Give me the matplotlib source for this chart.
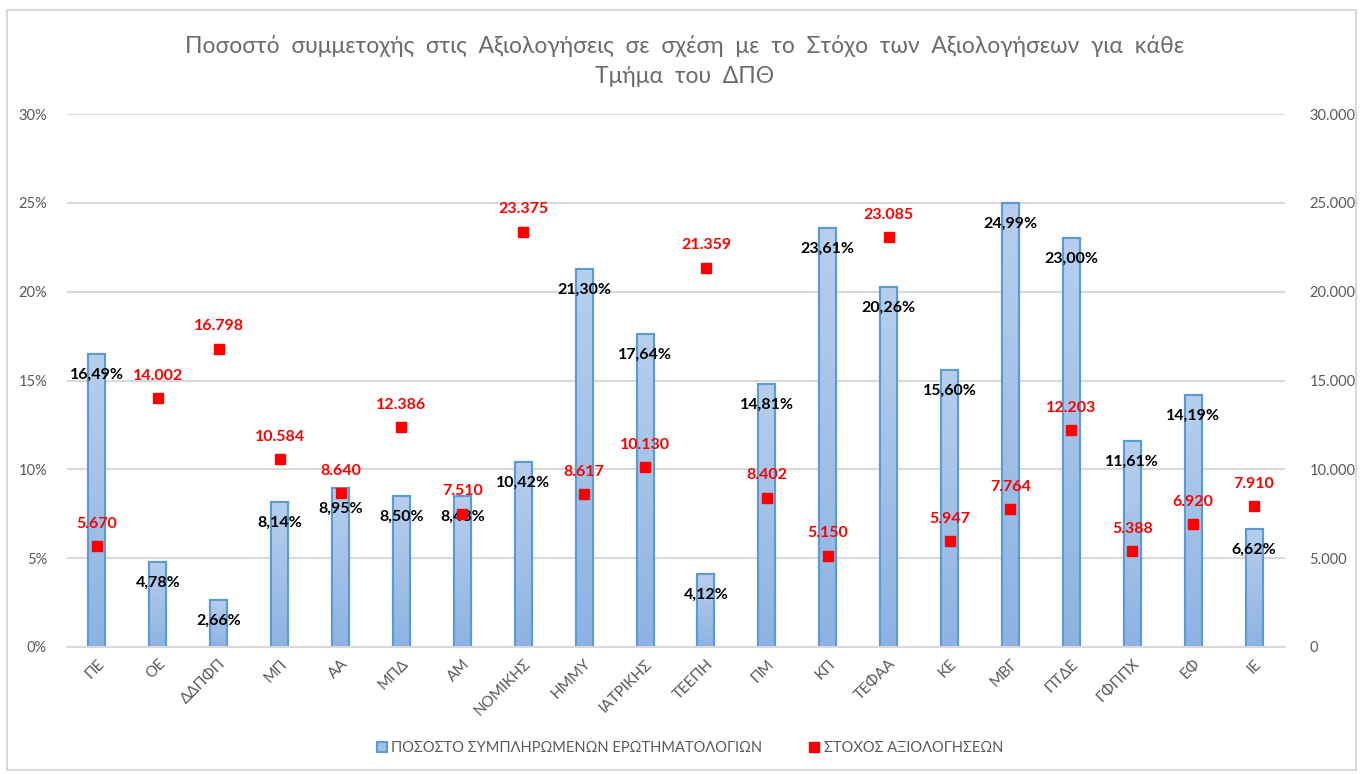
import numpy as np
import matplotlib
matplotlib.use("Agg")
import matplotlib.pyplot as plt
from matplotlib.patches import Rectangle
from matplotlib.colors import LinearSegmentedColormap
from matplotlib.ticker import FuncFormatter

plt.rcParams['font.family'] = ['Lato', 'DejaVu Sans']

categories = ['ΠΕ', 'ΟΕ', 'ΔΔΠΦΠ', 'ΜΠ', 'ΑΑ', 'ΜΠΔ', 'ΑΜ', 'ΝΟΜΙΚΗΣ', 'ΗΜΜΥ', 'ΙΑΤΡΙΚΗΣ',
              'ΤΕΕΠΗ', 'ΠΜ', 'ΚΠ', 'ΤΕΦΑΑ', 'ΚΕ', 'ΜΒΓ', 'ΠΤΔΕ', 'ΓΦΠΠΧ', 'ΕΦ', 'ΙΕ']
pct = [16.49, 4.78, 2.66, 8.14, 8.95, 8.50, 8.48, 10.42, 21.30, 17.64,
       4.12, 14.81, 23.61, 20.26, 15.60, 24.99, 23.00, 11.61, 14.19, 6.62]
target = [5670, 14002, 16798, 10584, 8640, 12386, 7510, 23375, 8617, 10130,
          21359, 8402, 5150, 23085, 5947, 7764, 12203, 5388, 6920, 7910]

title = 'Ποσοστό  συμμετοχής  στις  Αξιολογήσεις  σε  σχέση  με  το  Στόχο  των  Αξιολογήσεων  για  κάθε\nΤμήμα  του  ΔΠΘ'
bar_name = 'ΠΟΣΟΣΤΟ ΣΥΜΠΛΗΡΩΜΕΝΩΝ ΕΡΩΤΗΜΑΤΟΛΟΓΙΩΝ'
pt_name = 'ΣΤΟΧΟΣ ΑΞΙΟΛΟΓΗΣΕΩΝ'

gray = '#595959'
grid_c = '#d9d9d9'

fig = plt.figure(figsize=(13.61, 7.74), dpi=100)
ax = fig.add_axes([66.5 / 1361, 1 - 647 / 774, 1218 / 1361, 533 / 774])
ax2 = ax.twinx()

x = np.arange(len(categories))
bars = ax.bar(x, pct, width=0.28, color='#a3c1e6', edgecolor='#5b9bd5', linewidth=1.5,
              label=bar_name, zorder=2)
ax.set_xlim(-0.5, len(categories) - 0.5)
ax.set_ylim(0, 30)

# gradient fill inside each bar
cmap = LinearSegmentedColormap.from_list('g', ['#8db3e2', '#b7cfed'])
grad = np.linspace(0, 1, 256).reshape(-1, 1)
for b in bars:
    x0, y0, w, h = b.get_x(), b.get_y(), b.get_width(), b.get_height()
    im = ax.imshow(grad, cmap=cmap, origin='lower', aspect='auto',
                   extent=[x0, x0 + w, y0, y0 + h], zorder=2.1)
    im.set_clip_path(b)
    ax.add_patch(Rectangle((x0, y0), w, h, fill=False, edgecolor='#5b9bd5',
                           linewidth=1.5, zorder=2.2))
ax.set_xlim(-0.5, len(categories) - 0.5)
ax.set_ylim(0, 30)
ax.set_aspect('auto')

ax.set_yticks(np.arange(0, 31, 5))
ax.yaxis.set_major_formatter(FuncFormatter(lambda v, p: f'{int(v)}%'))
ax.yaxis.grid(True, color=grid_c, linewidth=1.5, zorder=0)
ax.set_axisbelow(True)
ax.set_xticks(x)
ax.set_xticklabels(categories, rotation=45, ha='right', rotation_mode='anchor')

for v, i in zip(pct, x):
    ax.annotate(f'{v:.2f}%'.replace('.', ','), (i, v), xytext=(0, -10), textcoords='offset points',
                ha='center', va='top', fontsize=11.5, fontweight='bold', color='black', zorder=5)

ax2.plot(x, target, linestyle='none', marker='s', markersize=7, color='#ff0000',
         label=pt_name, zorder=4)
ax2.set_ylim(0, 30000)
ax2.set_yticks(np.arange(0, 30001, 5000))
ax2.yaxis.set_major_formatter(FuncFormatter(lambda v, p: f'{int(v):,}'.replace(',', '.')))
for v, i in zip(target, x):
    ax2.annotate(f'{v:,}'.replace(',', '.'), (i, v), xytext=(0, 11), textcoords='offset points',
                 ha='center', va='bottom', fontsize=11.5, fontweight='bold', color='#ff0000')

for a in (ax, ax2):
    for s in ['top', 'left', 'right', 'bottom']:
        a.spines[s].set_visible(False)
    a.tick_params(length=0, labelsize=10.5, labelcolor=gray)
ax.spines['bottom'].set_visible(True)
ax.spines['bottom'].set_color(grid_c)
ax.spines['bottom'].set_linewidth(1.5)
ax.tick_params(axis='y', pad=14)
ax.tick_params(axis='x', pad=7, labelsize=11)
ax2.tick_params(axis='y', pad=18)

fig.text(0.503, 1 - 61 / 774, title, ha='center', va='center', fontsize=16.5,
         color='#6a6a6a', linespacing=1.55)

h1, l1 = ax.get_legend_handles_labels()
h2, l2 = ax2.get_legend_handles_labels()
fig.legend(h1 + h2, l1 + l2, loc='center', bbox_to_anchor=(0.507, 1 - 748 / 774), ncol=2,
           frameon=False, fontsize=10.5, labelcolor=gray, handlelength=0.7, handleheight=0.7,
           columnspacing=3.2, handletextpad=0.3)

fig.patches.append(Rectangle((7 / 1361, 4 / 774), 1 - 12 / 1361, 1 - 14 / 774,
                             transform=fig.transFigure, fill=False, edgecolor=grid_c, linewidth=1.5))

fig.savefig('out.png', dpi=100)
